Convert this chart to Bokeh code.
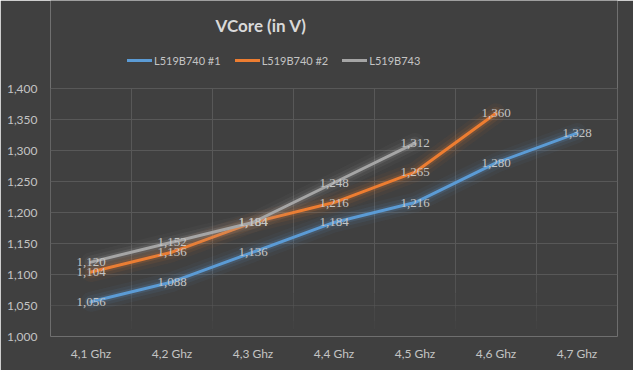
from bokeh.plotting import figure
from bokeh.models import (Range1d, FixedTicker, ColumnDataSource, LabelSet, Legend,
                          LegendItem, Label)
from bokeh.embed import file_html
from bokeh.resources import INLINE

categories = ["4,1 Ghz", "4,2 Ghz", "4,3 Ghz", "4,4 Ghz", "4,5 Ghz", "4,6 Ghz", "4,7 Ghz"]
series_names = ["L519B740 #1", "L519B740 #2", "L519B743"]
s1 = [1.056, 1.088, 1.136, 1.184, 1.216, 1.280, 1.328]
s2 = [1.104, 1.136, 1.184, 1.216, 1.265, 1.360]
s3 = [1.120, 1.152, 1.184, 1.248, 1.312]
y_ticks = [1.0, 1.05, 1.1, 1.15, 1.2, 1.25, 1.3, 1.35, 1.4]
y_tick_labels = ["1,000", "1,050", "1,100", "1,150", "1,200", "1,250", "1,300", "1,350", "1,400"]
title_text = "VCore (in V)"

colors = ["#5B9BD5", "#ED7D31", "#A5A5A5"]
BG = "#404040"
TXT = "#C4C4C4"
GRID = "#585858"
FONT = "Lato"

W, H = 633, 370
FL, FR, FB = 50, 617, 336       # frame left / right / bottom (pixels)
PLOT_TOP = 88                   # pixel row of the top y tick
Y0, Y1 = y_ticks[0], y_ticks[-1]
PX = (Y1 - Y0) / float(FB - PLOT_TOP)   # data units per pixel in y
TOP = Y1 + PLOT_TOP * PX                # frame extended to the top of the canvas
n = len(categories)
XPX = n / float(FR - FL)                # data units per pixel in x

p = figure(width=W, height=H, output_backend="svg", toolbar_location=None,
           x_range=Range1d(0.5, n + 0.5), y_range=Range1d(Y0, TOP),
           min_border_left=FL, min_border_right=W - FR, min_border_top=0,
           min_border_bottom=H - FB)
p.background_fill_color = BG
p.border_fill_color = BG
p.outline_line_color = None

# axes
p.xaxis.ticker = FixedTicker(ticks=list(range(1, n + 1)))
p.xaxis.major_label_overrides = {i + 1: c for i, c in enumerate(categories)}
p.yaxis.ticker = FixedTicker(ticks=y_ticks)
p.yaxis.major_label_overrides = {t: l for t, l in zip(y_ticks, y_tick_labels)}
for ax in (p.xaxis[0], p.yaxis[0]):
    ax.axis_line_color = None
    ax.major_tick_line_color = None
    ax.minor_tick_line_color = None
    ax.major_tick_out = 0
    ax.major_tick_in = 0
    ax.minor_tick_out = 0
    ax.minor_tick_in = 0
    ax.major_label_text_color = TXT
    ax.major_label_text_font = FONT
    ax.major_label_text_font_size = "12px"
p.yaxis.major_label_standoff = 13
p.xaxis.major_label_standoff = 9

# grid
p.xgrid.grid_line_color = None
p.ygrid.ticker = FixedTicker(ticks=y_ticks[2:])
p.ygrid.grid_line_color = GRID
bounds = [i + 0.5 for i in range(n + 1)]
fade = [(Y1, 1.10, 1.0), (1.10, 1.07, 0.75), (1.07, 1.045, 0.5), (1.045, 1.025, 0.3), (1.025, 1.012, 0.15)]
for ya, yb, a in fade:
    p.segment(x0=bounds, y0=[ya] * len(bounds), x1=bounds, y1=[yb] * len(bounds),
              line_color=GRID, line_width=1, line_alpha=a)
p.segment(x0=[0.5], y0=[y_ticks[1]], x1=[n + 0.5], y1=[y_ticks[1]],
          line_color=GRID, line_width=1, line_alpha=0.55)

items = []
for name, vals, col in zip(series_names, [s1, s2, s3], colors):
    xs = list(range(1, len(vals) + 1))
    src = ColumnDataSource(dict(x=xs, y=vals, lab=[f"{v:.3f}".replace(".", ",") for v in vals]))
    p.line("x", "y", source=src, line_color=col, line_width=20, line_alpha=0.05, line_cap="round", line_join="round")
    p.line("x", "y", source=src, line_color=col, line_width=13, line_alpha=0.09, line_cap="round", line_join="round")
    p.line("x", "y", source=src, line_color=col, line_width=7, line_alpha=0.16, line_cap="round", line_join="round")
    r = p.line("x", "y", source=src, line_color=col, line_width=3, line_cap="round", line_join="round")
    items.append((name, r, src))

for name, r, src in items:
    p.add_layout(LabelSet(x="x", y="y", text="lab", source=src, text_align="center",
                          text_baseline="middle", text_color=TXT, text_font=FONT,
                          text_font_size="13px"))

legend = Legend(items=[LegendItem(label=nm, renderers=[r]) for nm, r, s in items],
                orientation="horizontal", location=(127 - FL, FB - 60 - 7),
                background_fill_alpha=0, border_line_color=None,
                label_text_color=TXT, label_text_font=FONT, label_text_font_size="11px",
                glyph_width=25, glyph_height=14, label_height=14,
                label_standoff=2, spacing=14, padding=0, margin=0)
p.add_layout(legend)

p.add_layout(Label(x=0.5 + (260.5 - FL) * XPX, y=TOP - 25 * PX, text=title_text,
                   text_align="center", text_baseline="middle", text_font=FONT,
                   text_font_size="17px", text_font_style="bold", text_color="#D9D9D9"))

open("out.html", "w").write(file_html(p, INLINE))
